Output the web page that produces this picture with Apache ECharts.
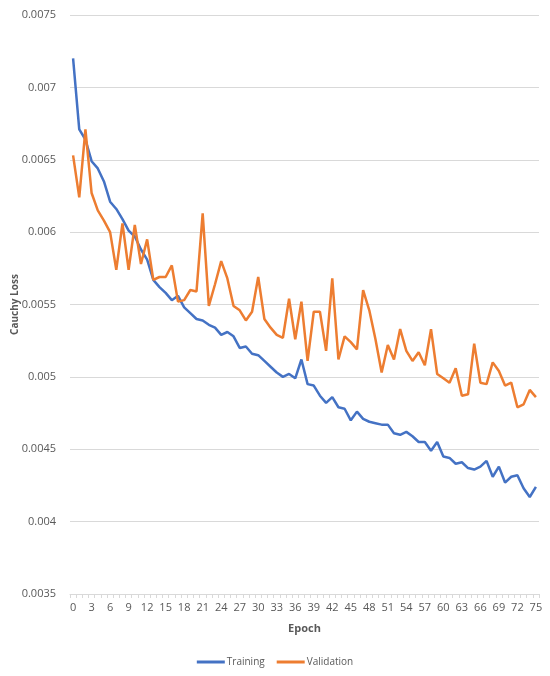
<!DOCTYPE html>
<html>
<head>
<meta charset="utf-8">
<script src="https://cdn.jsdelivr.net/npm/echarts@6/dist/echarts.min.js"></script>
<style>
html,body{margin:0;padding:0;background:#fff;}
#chart{width:550px;height:676px;}
</style>
</head>
<body>
<div id="chart"></div>
<script>
var epochs = [];
for (var i = 0; i <= 75; i++) epochs.push(String(i));

var training = [
0.00720,0.00671,0.00664,0.00649,0.00644,0.00635,0.00621,0.00616,0.00609,0.00601,
0.00597,0.00588,0.00581,0.00567,0.00562,0.00558,0.00553,0.00556,0.00548,0.00544,
0.00540,0.00539,0.00536,0.00534,0.00529,0.00531,0.00528,0.00520,0.00521,0.00516,
0.00515,0.00511,0.00507,0.00503,0.00500,0.00502,0.00499,0.00512,0.00495,0.00494,
0.00487,0.00482,0.00486,0.00479,0.00478,0.00470,0.00476,0.00471,0.00469,0.00468,
0.00467,0.00467,0.00461,0.00460,0.00462,0.00459,0.00455,0.00455,0.00449,0.00455,
0.00445,0.00444,0.00440,0.00441,0.00437,0.00436,0.00438,0.00442,0.00431,0.00438,
0.00427,0.00431,0.00432,0.00423,0.00417,0.00424
];

var validation = [
0.00653,0.00624,0.00671,0.00627,0.00615,0.00608,0.00600,0.00574,0.00606,0.00574,
0.00605,0.00578,0.00595,0.00567,0.00569,0.00569,0.00577,0.00552,0.00553,0.00560,
0.00559,0.00613,0.00549,0.00564,0.00580,0.00568,0.00549,0.00546,0.00539,0.00545,
0.00569,0.00540,0.00534,0.00529,0.00527,0.00554,0.00526,0.00552,0.00511,0.00545,
0.00545,0.00518,0.00568,0.00512,0.00528,0.00524,0.00519,0.00560,0.00546,0.00526,
0.00503,0.00522,0.00512,0.00533,0.00518,0.00511,0.00517,0.00508,0.00533,0.00502,
0.00499,0.00496,0.00506,0.00487,0.00488,0.00523,0.00496,0.00495,0.00510,0.00504,
0.00494,0.00496,0.00479,0.00481,0.00491,0.00486
];

var seriesNames = ['Training', 'Validation'];
var colors = ['#4472C4', '#ED7D31'];

var chart = echarts.init(document.getElementById('chart'));
var font = 'Open Sans';
chart.setOption({
  animation: false,
  color: colors,
  textStyle: { fontFamily: font },
  grid: { left: 70, right: 11, top: 15, bottom: 82, containLabel: false, outerBoundsMode: 'none' },
  legend: {
    bottom: 4,
    left: 'center',
    itemWidth: 28,
    itemHeight: 3,
    itemGap: 12,
    icon: 'rect',
    textStyle: { color: '#595959', fontSize: 10, fontFamily: font, padding: [0, 0, 0, -3] },
    data: seriesNames
  },
  xAxis: {
    type: 'category',
    data: epochs,
    boundaryGap: true,
    name: 'Epoch',
    nameLocation: 'middle',
    nameGap: 29,
    nameMoveOverlap: false,
    nameTextStyle: { color: '#595959', fontSize: 11, fontWeight: 'bold', fontFamily: font },
    axisLine: { lineStyle: { color: '#d9d9d9' } },
    axisTick: { show: true, interval: 0, length: 4, lineStyle: { color: '#d9d9d9' } },
    axisLabel: { interval: 2, color: '#595959', fontSize: 11, margin: 8, fontFamily: font },
    splitLine: { show: false }
  },
  yAxis: {
    type: 'value',
    min: 0.0035,
    max: 0.0075,
    interval: 0.0005,
    name: 'Cauchy Loss',
    nameLocation: 'middle',
    nameGap: 50,
    nameRotate: 90,
    nameMoveOverlap: false,
    nameTextStyle: { color: '#595959', fontSize: 10, fontWeight: 'bold', fontFamily: font },
    axisLine: { show: false },
    axisTick: { show: false },
    axisLabel: {
      color: '#595959', fontSize: 11, margin: 14, fontFamily: font,
      formatter: function (v) { return String(parseFloat(v.toFixed(5))); }
    },
    splitLine: { lineStyle: { color: '#d9d9d9', width: 1 } }
  },
  series: [
    { name: seriesNames[0], type: 'line', data: training, symbol: 'none', lineStyle: { width: 2.5, color: colors[0] } },
    { name: seriesNames[1], type: 'line', data: validation, symbol: 'none', lineStyle: { width: 2.5, color: colors[1] } }
  ]
});
</script>
</body>
</html>
